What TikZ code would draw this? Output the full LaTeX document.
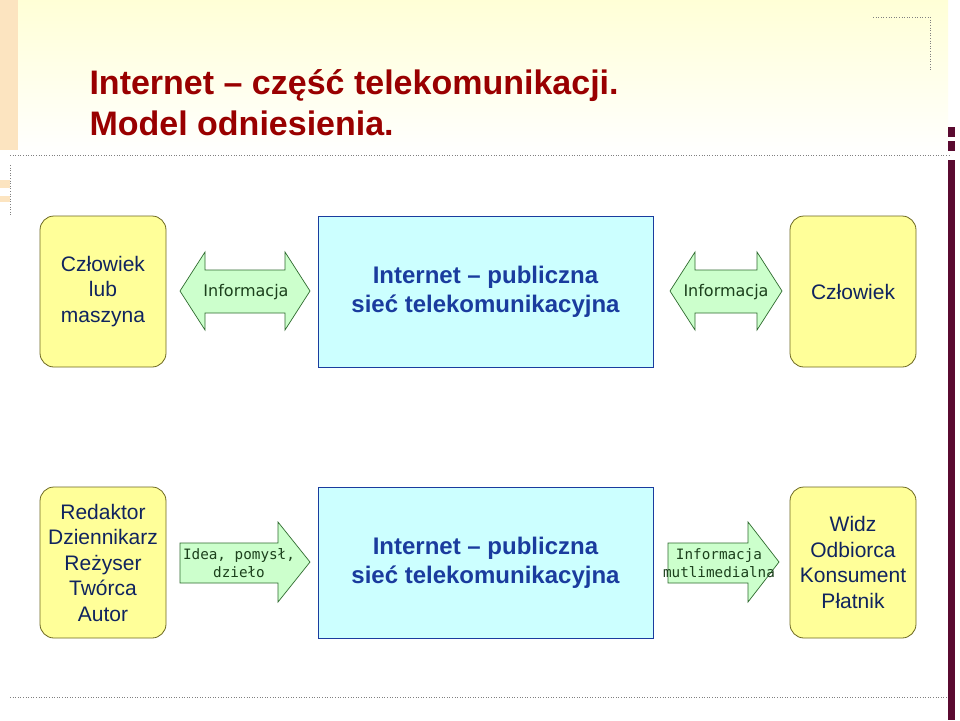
\documentclass[tikz,border=0pt]{standalone}
\usepackage{fontspec}
\setmainfont{Liberation Sans}
\newfontfamily\monof{DejaVu Sans Mono}
\newfontfamily\verd{DejaVu Sans}
\usetikzlibrary{shapes.arrows}
\definecolor{ttl}{HTML}{990000}
\definecolor{cyanf}{HTML}{CCFFFF}
\definecolor{blu}{HTML}{1A3C9E}
\definecolor{yelf}{HTML}{FFFF99}
\definecolor{grnf}{HTML}{CCFFCC}
\definecolor{grnd}{HTML}{2E6B2E}
\definecolor{peach}{HTML}{FCE4C0}
\definecolor{maroon}{HTML}{5A0A30}
\tikzset{
  ybox/.style={draw=olive!70!black,fill=yelf,rounded corners=14pt,line width=0.8pt,align=center,font=\fontsize{21}{25.5}\selectfont,text=blu!60!black},
  cbox/.style={draw=blu,fill=cyanf,line width=0.8pt,align=center,text=blu,font=\fontsize{24}{29}\selectfont\bfseries},
  arr/.style={draw=grnd,fill=grnf,line width=0.7pt},
  atxt/.style={align=center,font=\verd\fontsize{16}{19}\selectfont,text=grnd!60!black},
  dotl/.style={gray,dotted,line width=0.6pt}
}
\begin{document}
\begin{tikzpicture}[x=1pt,y=-1pt]
\useasboundingbox (0,0) rectangle (960,720);
\fill[white] (0,0) rectangle (960,720);
\shade[top color=yelf!40,bottom color=white] (0,0) rectangle (948,155);
\fill[peach] (0,0) rectangle (18,150);
\fill[peach] (0,180) rectangle (10,188);
\fill[peach] (0,196) rectangle (10,202);
\draw[dotl] (10,155) -- (950,155);
\draw[dotl] (10,697) -- (948,697);
\draw[dotl] (873,17) -- (930,17) -- (930,70);
\draw[dotl] (10,165) -- (10,215);
\fill[maroon] (948,160) rectangle (955,720);
\fill[maroon] (948,127) rectangle (955,137);
\fill[maroon] (948,141) rectangle (955,151);
\node[anchor=west,text=ttl,font=\fontsize{34}{41}\selectfont\bfseries,align=left] (title) at (86,103) {Internet -- część telekomunikacji.\\Model odniesienia.};
% top row
\node[ybox,minimum width=126pt,minimum height=151pt] (tl) at (103,291.5) {Człowiek\\lub\\maszyna};
\node[cbox,minimum width=335pt,minimum height=151pt] (tc) at (485.5,291.5) {Internet -- publiczna\\sieć telekomunikacyjna};
\node[ybox,minimum width=126pt,minimum height=151pt] (tr) at (853,291.5) {Człowiek};
\draw[arr] (180,291) -- (205,252) -- (205,270) -- (285,270) -- (285,252) -- (310,291) -- (285,330) -- (285,313) -- (205,313) -- (205,330) -- cycle;
\node[atxt] (a1) at (246,292) {Informacja};
\draw[arr] (670,291) -- (695,252) -- (695,270) -- (757,270) -- (757,252) -- (782,291) -- (757,330) -- (757,313) -- (695,313) -- (695,330) -- cycle;
\node[atxt] (a2) at (726,292) {Informacja};
% bottom row
\node[ybox,minimum width=126pt,minimum height=151pt] (bl) at (103,562.5) {Redaktor\\Dziennikarz\\Reżyser\\Twórca\\Autor};
\node[cbox,minimum width=335pt,minimum height=151pt] (bc) at (485.5,562.5) {Internet -- publiczna\\sieć telekomunikacyjna};
\node[ybox,minimum width=126pt,minimum height=151pt] (br) at (853,562.5) {Widz\\Odbiorca\\Konsument\\Płatnik};
\draw[arr] (180,543) -- (278,543) -- (278,522) -- (310,562) -- (278,602) -- (278,583) -- (180,583) -- cycle;
\node[atxt,font=\monof\fontsize{14.3}{18}\selectfont] (a3) at (239,563) {Idea, pomysł,\\dzieło};
\draw[arr] (668,543) -- (748,543) -- (748,522) -- (779,562) -- (748,602) -- (748,583) -- (668,583) -- cycle;
\node[atxt,font=\monof\fontsize{14.3}{18}\selectfont] (a4) at (719,563) {Informacja\\mutlimedialna};
\end{tikzpicture}
\end{document}
